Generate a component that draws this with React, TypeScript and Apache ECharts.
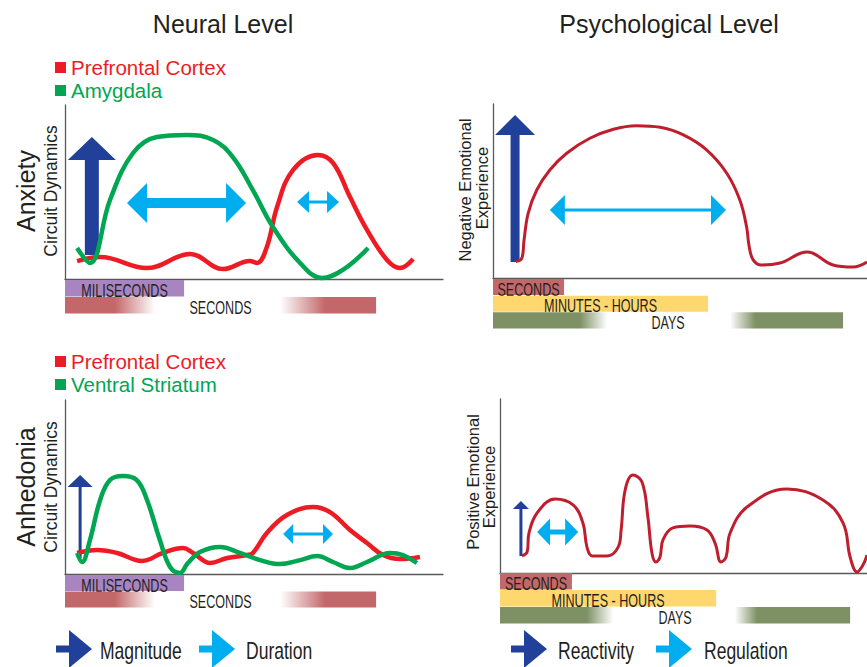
import React, { useEffect, useRef } from 'react';
import * as echarts from 'echarts';

// ---------- colours ----------
const RED = '#ED1C24';
const GREEN = '#00A651';
const PSY_RED = '#BE1E2D';
const NAVY = '#21409A';
const CYAN = '#00AEEF';
const INK = '#231F20';
const AXIS = '#58595B';
const FONT = "'Liberation Sans', Arial, sans-serif";

// ---------- data (x: time 0-100, y: level 0-100) ----------
const anxietyPFC = [
  [3.2, 10.3], [9.3, 12.6], [21.7, 6.3], [33.1, 14.4], [41.8, 5.7], [48.9, 10.3], [50.8, 9.2],
  [53.4, 18.4], [56.1, 41.4], [60.3, 62.6], [66.9, 71.3], [70.9, 66.7], [75.4, 47.1], [79.9, 28.2],
  [85.2, 10.9], [88.6, 6.3], [92.1, 11.5],
];
const anxietyAmygdala = [
  [3.2, 17.8], [6.6, 9.2], [11.9, 45.4], [18.0, 72.4], [24.3, 81.6], [32.3, 82.8], [39.2, 79.9],
  [44.4, 70.1], [49.7, 51.1], [55.0, 29.9], [62.2, 9.2], [68.0, 0.6], [73.5, 5.2], [80.2, 17.8],
];
const negativeExperience = [
  [6.1, 9.4], [7.7, 11.3], [8.3, 21.8], [9.4, 37.2], [11.7, 50.6], [15.2, 62.1], [19.7, 71.7],
  [25.9, 80.3], [32.2, 85.5], [38.4, 87.5], [44.7, 86.6], [50.9, 82.2], [57.1, 73.6], [62.5, 60.2],
  [66.0, 44.8], [67.8, 29.5], [68.5, 18.0], [69.6, 10.3], [71.8, 7.5], [76.7, 8.6], [84.0, 14.9],
  [90.9, 7.5], [96.3, 6.3], [100, 9.2],
];
const anhedoniaPFC = [
  [3.2, 12.1], [8.5, 13.8], [13.8, 12.1], [20.4, 7.5], [25.9, 12.1], [31.2, 14.9], [33.9, 12.1],
  [38.4, 6.3], [42.9, 9.2], [48.1, 10.9], [49.7, 12.1], [53.4, 23.6], [58.7, 33.9], [65.6, 38.5],
  [70.1, 35.6], [75.4, 25.3], [79.9, 17.8], [84.1, 10.9], [88.6, 8.6], [93.9, 9.8],
];
const anhedoniaStriatum = [
  [3.2, 12.1], [4.5, 6.9], [6.6, 19.5], [9.3, 42.5], [11.9, 54.0], [15.3, 56.3], [19.0, 54.0],
  [21.7, 42.5], [25.1, 19.5], [27.8, 4.0], [30.4, 0.6], [32.5, 6.3], [35.7, 12.6], [41.0, 15.5],
  [46.3, 12.1], [51.6, 8.0], [56.9, 5.7], [62.2, 8.0], [66.7, 10.3], [70.9, 6.9], [75.4, 3.4],
  [79.9, 6.9], [86.0, 12.1], [89.4, 10.9], [93.1, 6.3],
];
const positiveExperience = [
  [6.0, 9.8], [7.4, 12.1], [7.9, 23.0], [10.1, 34.5], [15.0, 42.5], [19.9, 39.1], [22.6, 28.7],
  [23.7, 14.9], [25.1, 9.8], [29.2, 9.8], [32.2, 14.9], [33.0, 24.7], [34.1, 47.7], [36.2, 56.3],
  [38.7, 52.3], [40.3, 32.2], [41.4, 11.5], [42.5, 6.3], [43.6, 9.2], [44.4, 19.0], [47.1, 25.9],
  [51.8, 27.0], [56.4, 24.7], [58.6, 17.2], [60.2, 6.3], [61.6, 9.2], [62.7, 23.0], [67.3, 37.9],
  [78.2, 48.3], [88.0, 42.0], [93.5, 28.7], [95.4, 9.2], [97.3, 0.6], [98.9, 4.6], [100, 10.3],
];

// arrows: magnitude [x, from, to]; duration [from, to, y]
const anxietyMagnitude = [[7.1, 13.8, 81.6]];
const anxietyDurationLong = [[16.4, 47.9, 43.7]];
const anxietyDurationShort = [[61.4, 72.5, 44.3]];
const negReactivity = [[5.9, 9.2, 93.7]];
const negRegulation = [[15.2, 62.3, 39.1]];
const anhedoniaMagnitude = [[4.0, 9.2, 56.9]];
const anhedoniaDuration = [[57.7, 70.9, 23.0]];
const posReactivity = [[5.7, 9.8, 41.4]];
const posRegulation = [[10.1, 21.3, 23.6]];

// time-scale bands
const neuralBands = ['MILISECONDS', 'SECONDS'];
const neuralBandEnds = [31.5, 82.3];
const neuralBandFades = [null, [13.2, 23.8, 56.9, 68.8]];
const neuralBandColors = ['#A885C1', '#C3686A'];

const psyBandsTop = ['SECONDS', 'MINUTES - HOURS', 'DAYS'];
const psyBandEndsTop = [19.0, 57.5, 93.6];
const psyBandFadesTop = [null, null, [23.3, 30.5, 63.4, 70.1]];
const psyBandEndsBottom = [19.6, 58.9, 95.4];
const psyBandFadesBottom = [null, null, [23.7, 30.8, 64.0, 70.0]];
const psyBandColors = ['#C3686A', '#FFD76F', '#7E9164'];

// ---------- helpers ----------
function clearOf(hex: string) {
  const n = parseInt(hex.slice(1), 16);
  return `rgba(${(n >> 16) & 255},${(n >> 8) & 255},${n & 255},0)`;
}

function vArrow(color: string, sw: number, hw: number, hl: number) {
  return (params: any, api: any) => {
    const b = api.coord([api.value(0), api.value(1)]);
    const t = api.coord([api.value(0), api.value(2)]);
    const cx = b[0], by = b[1], ty = t[1], hy = ty + hl;
    return {
      type: 'polygon',
      shape: { points: [[cx - sw / 2, by], [cx - sw / 2, hy], [cx - hw / 2, hy], [cx, ty], [cx + hw / 2, hy], [cx + sw / 2, hy], [cx + sw / 2, by]] },
      style: { fill: color },
    };
  };
}

function hArrow(color: string, sw: number, hh: number, hl: number) {
  return (params: any, api: any) => {
    const a = api.coord([api.value(0), api.value(2)]);
    const b = api.coord([api.value(1), api.value(2)]);
    const y = a[1], xa = a[0], xb = b[0];
    return {
      type: 'polygon',
      shape: {
        points: [
          [xa, y], [xa + hl, y - hh / 2], [xa + hl, y - sw / 2], [xb - hl, y - sw / 2], [xb - hl, y - hh / 2],
          [xb, y], [xb - hl, y + hh / 2], [xb - hl, y + sw / 2], [xa + hl, y + sw / 2], [xa + hl, y + hh / 2],
        ],
      },
      style: { fill: color },
    };
  };
}

function bandRender(names: string[], colors: string[], fades: any[], fontSize: number) {
  return (params: any, api: any) => {
    const i = params.dataIndex;
    const row = api.value(1);
    const end = api.value(2);
    const s = api.coord([0, row]);
    const e = api.coord([end, row]);
    const h = api.size([0, 1])[1];
    const c = colors[i];
    const f = fades[i];
    let fill: any = c;
    if (f) {
      const cl = clearOf(c);
      fill = new echarts.graphic.LinearGradient(0, 0, 1, 0, [
        { offset: 0, color: c }, { offset: f[0] / end, color: c }, { offset: f[1] / end, color: cl },
        { offset: f[2] / end, color: cl }, { offset: f[3] / end, color: c }, { offset: 1, color: c },
      ]);
    }
    return {
      type: 'group',
      children: [
        { type: 'rect', shape: { x: s[0], y: s[1] - h / 2, width: e[0] - s[0], height: h - 0.6 }, style: { fill } },
        {
          type: 'text', x: (s[0] + e[0]) / 2, y: s[1] + 2, scaleX: 0.68,
          style: { text: names[i], fill: INK, fontSize, fontFamily: FONT, align: 'center', verticalAlign: 'middle', textAlign: 'center', textVerticalAlign: 'middle' },
        },
      ],
    };
  };
}

const chartAxis = (gridIndex: number) => ({
  gridIndex, type: 'value', min: 0, max: 100,
  axisLine: { show: true, onZero: false, lineStyle: { color: AXIS, width: 1.3 } },
  axisTick: { show: false }, axisLabel: { show: false }, splitLine: { show: false },
});
const hiddenX = (gridIndex: number) => ({ gridIndex, type: 'value', min: 0, max: 100, show: false });
const bandY = (gridIndex: number, data: string[]) => ({ gridIndex, type: 'category', data, inverse: true, show: false });

const lineSeries = (name: string, data: number[][], color: string, width: number, axis: number) => ({
  type: 'line', name, data, xAxisIndex: axis, yAxisIndex: axis, smooth: 0.4, showSymbol: false, symbol: 'none',
  color, lineStyle: { color, width }, z: 3, silent: true,
});
const customSeries = (data: any[], renderItem: any, axis: number, z = 2) => ({
  type: 'custom', data, renderItem, xAxisIndex: axis, yAxisIndex: axis, clip: false, z, silent: true,
});
const bandSeries = (names: string[], ends: number[], colors: string[], fades: any[], axis: number, fs: number) =>
  customSeries(names.map((n, i) => [0, i, ends[i]]), bandRender(names, colors, fades, fs), axis, 1);

const txt = (text: string, x: number, y: number, fontSize: number, opts: any = {}) => ({
  type: 'text', x, y, rotation: opts.rotation || 0, scaleX: opts.scaleX || 1,
  style: {
    text, fill: opts.fill || INK, fontSize, fontFamily: FONT,
    align: opts.align || 'center', verticalAlign: 'middle', textAlign: opts.align || 'center', textVerticalAlign: 'middle',
  },
});
const iconArrow = (x0: number, color: string) => ({
  type: 'polygon',
  shape: { points: [[x0, 645.5], [x0 + 13, 645.5], [x0 + 13, 630], [x0 + 36, 649], [x0 + 13, 668], [x0 + 13, 652.5], [x0, 652.5]] },
  style: { fill: color },
});

export default function App() {
  const ref = useRef<HTMLDivElement>(null);
  useEffect(() => {
    document.body.style.margin = '0';
    const chart = echarts.init(ref.current!, null, { renderer: 'svg' });
    const legendText = { fontSize: 20.5, fontFamily: FONT };
    const cond = { align: 'left', scaleX: 0.73 };
    chart.setOption({
      animation: false,
      backgroundColor: '#ffffff',
      grid: [
        { left: 65, top: 105, width: 378, height: 174 },
        { left: 65, top: 280, width: 378, height: 34 },
        { left: 493, top: 104, width: 374, height: 174 },
        { left: 493, top: 279, width: 374, height: 50 },
        { left: 65, top: 400, width: 378, height: 174 },
        { left: 65, top: 575, width: 378, height: 33 },
        { left: 500, top: 399, width: 367, height: 174 },
        { left: 500, top: 573, width: 367, height: 51 },
      ],
      xAxis: [chartAxis(0), hiddenX(1), chartAxis(2), hiddenX(3), chartAxis(4), hiddenX(5), chartAxis(6), hiddenX(7)],
      yAxis: [
        chartAxis(0), bandY(1, neuralBands), chartAxis(2), bandY(3, psyBandsTop),
        chartAxis(4), bandY(5, neuralBands), chartAxis(6), bandY(7, psyBandsTop),
      ],
      legend: [
        {
          left: 50, top: 52, orient: 'vertical', icon: 'rect', itemWidth: 11, itemHeight: 11, itemGap: 2,
          selectedMode: false, textStyle: legendText,
          data: [{ name: 'Prefrontal Cortex', textStyle: { color: RED } }, { name: 'Amygdala', textStyle: { color: GREEN } }],
        },
        {
          left: 50, top: 346, orient: 'vertical', icon: 'rect', itemWidth: 11, itemHeight: 11, itemGap: 2,
          selectedMode: false, textStyle: legendText,
          data: [{ name: 'Prefrontal Cortex', textStyle: { color: RED } }, { name: 'Ventral Striatum', textStyle: { color: GREEN } }],
        },
      ],
      series: [
        // Anxiety – neural
        customSeries(anxietyMagnitude, vArrow(NAVY, 14, 48, 23), 0),
        customSeries(anxietyDurationLong, hArrow(CYAN, 10, 40, 20), 0),
        customSeries(anxietyDurationShort, hArrow(CYAN, 3, 22, 12), 0),
        lineSeries('Prefrontal Cortex', anxietyPFC, RED, 4.5, 0),
        lineSeries('Amygdala', anxietyAmygdala, GREEN, 4.5, 0),
        bandSeries(neuralBands, neuralBandEnds, neuralBandColors, neuralBandFades, 1, 18.5),
        // Anxiety – psychological
        customSeries(negReactivity, vArrow(NAVY, 9, 40, 20), 2),
        customSeries(negRegulation, hArrow(CYAN, 3, 30, 15), 2),
        lineSeries('Negative Emotional Experience', negativeExperience, PSY_RED, 3, 2),
        bandSeries(psyBandsTop, psyBandEndsTop, psyBandColors, psyBandFadesTop, 3, 18.5),
        // Anhedonia – neural
        customSeries(anhedoniaMagnitude, vArrow(NAVY, 3, 25, 12), 4),
        customSeries(anhedoniaDuration, hArrow(CYAN, 3, 20, 10), 4),
        lineSeries('Prefrontal Cortex', anhedoniaPFC, RED, 4.5, 4),
        lineSeries('Ventral Striatum', anhedoniaStriatum, GREEN, 4.5, 4),
        bandSeries(neuralBands, neuralBandEnds, neuralBandColors, neuralBandFades, 5, 18.5),
        // Anhedonia – psychological
        customSeries(posReactivity, vArrow(NAVY, 3, 16, 8), 6),
        customSeries(posRegulation, hArrow(CYAN, 5, 27, 13), 6),
        lineSeries('Positive Emotional Experience', positiveExperience, PSY_RED, 3, 6),
        bandSeries(psyBandsTop, psyBandEndsBottom, psyBandColors, psyBandFadesBottom, 7, 18.5),
      ],
      graphic: [
        txt('Neural Level', 223, 24, 25),
        txt('Psychological Level', 669, 24, 25),
        txt('Anxiety', 26, 191, 25, { rotation: Math.PI / 2 }),
        txt('Circuit Dynamics', 51, 191, 17.5, { rotation: Math.PI / 2 }),
        txt('Anhedonia', 26, 487, 25, { rotation: Math.PI / 2 }),
        txt('Circuit Dynamics', 51, 487, 17.5, { rotation: Math.PI / 2 }),
        txt('Negative Emotional', 465, 190, 16.5, { rotation: Math.PI / 2 }),
        txt('Experience', 482, 188, 16.5, { rotation: Math.PI / 2 }),
        txt('Positive Emotional', 473, 482, 16.5, { rotation: Math.PI / 2 }),
        txt('Experience', 489, 487, 16.5, { rotation: Math.PI / 2 }),
        iconArrow(56, NAVY),
        txt('Magnitude', 100, 650, 24, cond),
        iconArrow(199, CYAN),
        txt('Duration', 246, 650, 24, cond),
        iconArrow(511, NAVY),
        txt('Reactivity', 558, 650, 24, cond),
        iconArrow(656, CYAN),
        txt('Regulation', 704, 650, 24, cond),
      ],
    });
    return () => chart.dispose();
  }, []);
  return <div ref={ref} style={{ position: 'fixed', left: 0, top: 0, width: 867, height: 667 }} />;
}
